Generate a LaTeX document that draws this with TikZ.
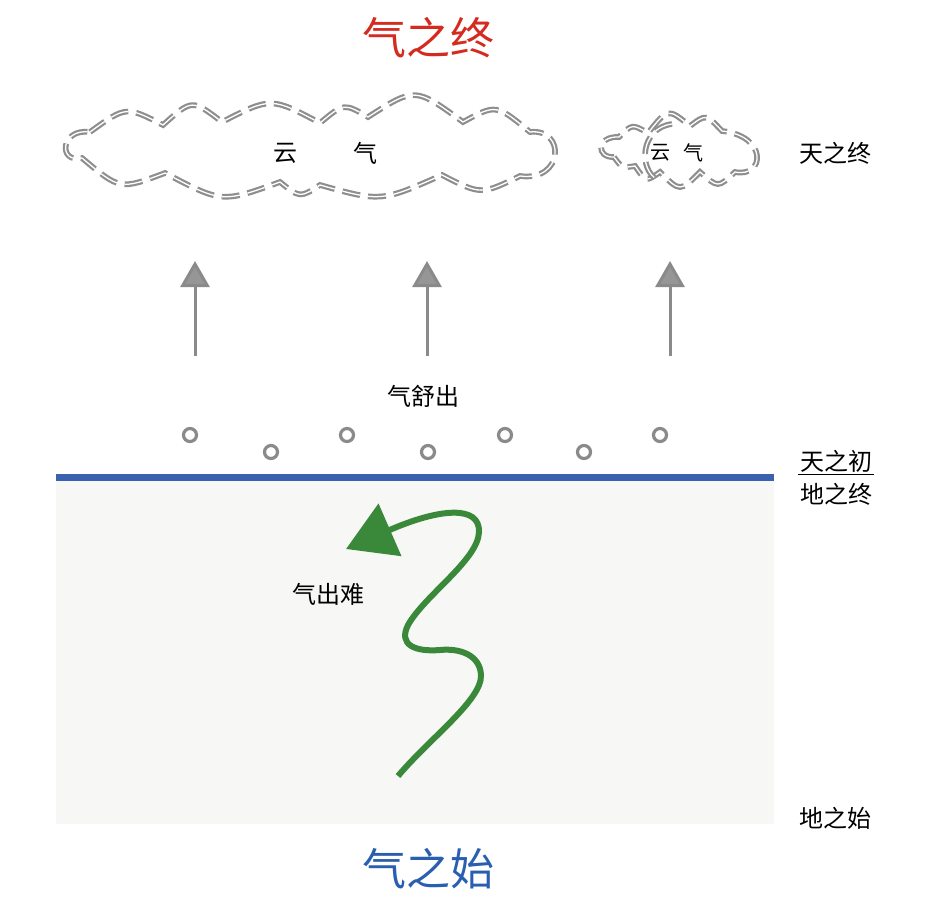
\documentclass[tikz,border=0pt]{standalone}
\usepackage{fontspec}
\setmainfont{Noto Sans CJK SC}
\usetikzlibrary{arrows.meta}
\definecolor{ttlred}{HTML}{D42A20}
\definecolor{ttlblue}{HTML}{2A5FB0}
\definecolor{lineblue}{HTML}{3A62AE}
\definecolor{cloudgray}{HTML}{8E8E8E}
\definecolor{arrgray}{HTML}{8A8A8A}
\definecolor{earthbg}{HTML}{F7F7F5}
\definecolor{mygreen}{HTML}{3A893A}
\tikzset{
  title/.style={font=\fontsize{44}{50}\selectfont, inner sep=0pt},
  lbl/.style={font=\fontsize{24}{28}\selectfont, text=black, inner sep=2pt},
  smalllbl/.style={font=\fontsize{20}{24}\selectfont, text=black, inner sep=0pt},
  cloudline/.style={draw=cloudgray, line width=2.2pt, double=white, double distance=1.3pt, dash pattern=on 18pt off 8pt},
  riseup/.style={draw=arrgray, line width=3pt, -{Triangle[width=29pt,length=26pt,fill=arrgray!90]}},
  bubble/.style={circle, draw=arrgray, line width=3.2pt, fill=white, minimum size=13pt, inner sep=0pt},
  greenpath/.style={draw=mygreen, line width=6pt, -{Triangle[width=56pt,length=48pt]}},
}
\begin{document}
\begin{tikzpicture}[x=1pt,y=-1pt]
\useasboundingbox (0,0) rectangle (925,900);
% earth block
\fill[earthbg] (56,478) rectangle (774,824);
\draw[lineblue, line width=6.5pt] (56,477.5) -- (774,477.5);

% titles
\node[title, text=ttlred] (top) at (428,38) {气之终};
\node[title, text=ttlblue] (bottom) at (428,869) {气之始};

% big cloud
\draw[cloudline] (90,132)
  .. controls (126,106) .. (163,125)
  .. controls (192,99) .. (222,122)
  .. controls (271,97) .. (320,123)
  .. controls (344,103) .. (368,117)
  .. controls (415,87) .. (463,122)
  .. controls (496,104) .. (530,132)
  .. controls (566,128) and (564,182) .. (520,176)
  .. controls (481,195) .. (442,175)
  .. controls (381,202) .. (320,185)
  .. controls (300,198) .. (280,182)
  .. controls (222,203) .. (165,173)
  .. controls (120,190) .. (82,158)
  .. controls (58,164) and (60,128) .. (90,132);
\node[lbl] (c1) at (285,153) {云};
\node[lbl] (c2) at (365,153) {气};

% small cloud
\draw[cloudline] (614,157)
  .. controls (596,158) and (596,136) .. (619,137)
  .. controls (632,124) .. (648,133)
  .. controls (668,108) .. (690,126)
  .. controls (706,114) .. (722,131)
  .. controls (768,136) and (765,178) .. (735,172)
  .. controls (718,188) .. (700,172)
  .. controls (680,192) .. (660,172)
  .. controls (646,182) .. (635,166)
  .. controls (622,168) .. (614,157);
\draw[cloudline] (672,124) .. controls (640,128) and (638,170) .. (658,180);
\node[smalllbl] (s1) at (660,153) {云};
\node[smalllbl] (s2) at (693,153) {气};

% right labels
\node[lbl] (skyend) at (835,153) {天之终};
\node[lbl] (skystart) at (836,461) {天之初};
\node[lbl] (earthend) at (836,494) {地之终};
\draw[line width=1.2pt] (skystart.south west) -- (skystart.south east);
\node[lbl] (earthstart) at (835,818) {地之始};

% rising arrows
\coordinate (a1s) at (195,356); \coordinate (a1e) at (195,261);
\coordinate (a2s) at (427,356); \coordinate (a2e) at (427,261);
\coordinate (a3s) at (670,356); \coordinate (a3e) at (670,261);
\draw[riseup] (a1s) -- (a1e);
\draw[riseup] (a2s) -- (a2e);
\draw[riseup] (a3s) -- (a3e);

% 气舒出
\node[lbl] (shu) at (423,396) {气舒出};

% bubbles
\node[bubble] (b1) at (190,435) {};
\node[bubble] (b2) at (271,452) {};
\node[bubble] (b3) at (347,435) {};
\node[bubble] (b4) at (428,452) {};
\node[bubble] (b5) at (505,435) {};
\node[bubble] (b6) at (584,452) {};
\node[bubble] (b7) at (660,435) {};

% green path
\coordinate (gs) at (398,776);
\coordinate (ge) at (346,549);
\draw[greenpath] (gs)
  .. controls (430,738) and (482,700) .. (481,675)
  .. controls (480,655) and (460,648) .. (440,650)
  .. controls (415,652) and (398,645) .. (408,625)
  .. controls (425,595) and (478,560) .. (479,532)
  .. controls (480,505) and (440,508) .. (ge);
\node[lbl] (hard) at (328,594) {气出难};
\end{tikzpicture}
\end{document}
